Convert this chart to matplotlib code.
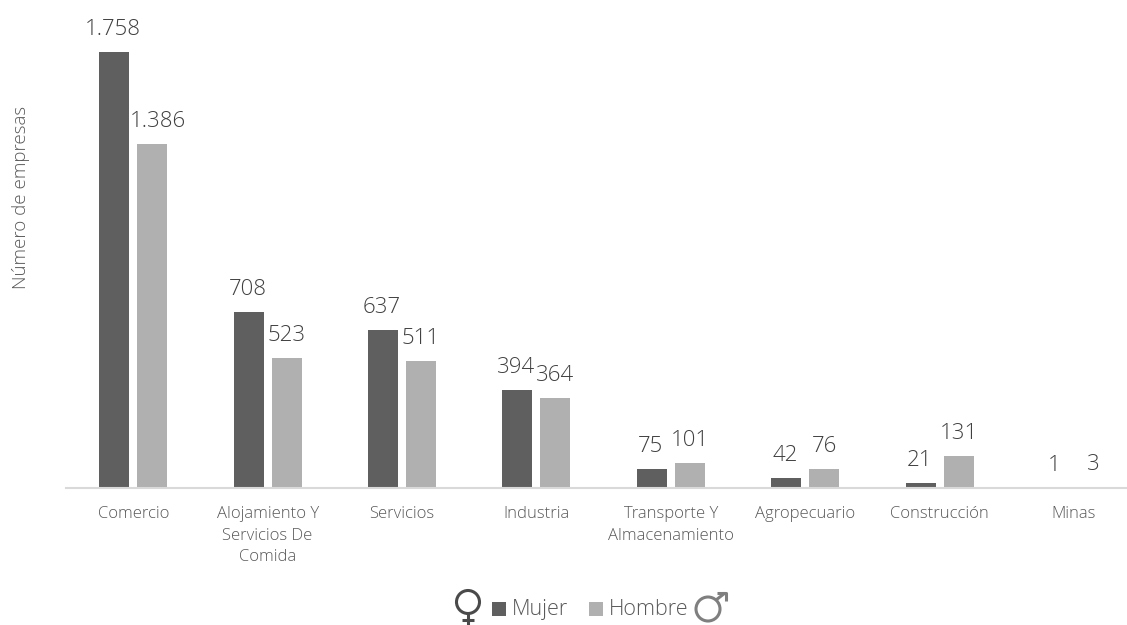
import matplotlib
matplotlib.use('Agg')
import matplotlib.pyplot as plt
from matplotlib.patches import Circle, Rectangle
from matplotlib.lines import Line2D
from matplotlib.transforms import IdentityTransform

# datos
categorias = ['Comercio', 'Alojamiento Y\nServicios De\nComida', 'Servicios', 'Industria',
              'Transporte Y\nAlmacenamiento', 'Agropecuario', 'Construcción', 'Minas']
mujer = [1758, 708, 637, 394, 75, 42, 21, 1]
hombre = [1386, 523, 511, 364, 101, 76, 131, 3]

plt.rcParams['font.family'] = ['Open Sans', 'DejaVu Sans']

W, H = 1127, 625
fig = plt.figure(figsize=(W / 100, H / 100), dpi=100)

# ejes en pixeles: izquierda 66, base 488, arriba 52
paso = 134.4
ax = fig.add_axes([66 / W, 1 - 488 / H, (W - 66) / W, (488 - 52) / H])
ax.set_xlim(-0.5, -0.5 + (W - 66) / paso)
ax.set_ylim(0, 1758)
ax.patch.set_alpha(0)

x = list(range(len(categorias)))
ancho = 30 / paso
desp = 19 / paso
ax.bar([i - desp for i in x], mujer, ancho, color='#5f5f5f', clip_on=False)
ax.bar([i + desp for i in x], hombre, ancho, color='#b0b0b0', clip_on=False)

for i, v in zip(x, mujer):
    ax.annotate(f'{v:,}'.replace(',', '.'), (i - desp, v), xytext=(-1, 12), textcoords='offset pixels',
                ha='center', va='bottom', fontsize=16, color='#404040', fontweight='light', annotation_clip=False)
for i, v in zip(x, hombre):
    # la etiqueta 1.386 va corrida a la derecha para no tocar la barra vecina
    dx = 6 if v > 1000 else 0
    ax.annotate(f'{v:,}'.replace(',', '.'), (i + desp, v), xytext=(dx, 12), textcoords='offset pixels',
                ha='center', va='bottom', fontsize=16, color='#404040', fontweight='light', annotation_clip=False)

for s in ['top', 'left', 'right']:
    ax.spines[s].set_visible(False)
ax.spines['bottom'].set_color('#d9d9d9')
ax.spines['bottom'].set_linewidth(1.5)
ax.set_yticks([])
ax.set_xticks(x)
ax.set_xticklabels(categorias, fontsize=12, color='#595959', fontweight='light', linespacing=1.46)
ax.tick_params(axis='x', length=0, pad=13)

fig.text(21 / W, 1 - 197 / H, 'Número de empresas', rotation=90, ha='center', va='center',
         fontsize=13.5, color='#595959', fontweight='light')


# leyenda con simbolos, en pixeles de la figura
def linea(xs, ys, color, lw=2.2):
    fig.add_artist(Line2D([a / W for a in xs], [1 - b / H for b in ys], color=color, lw=lw,
                          solid_capstyle='butt'))


def circulo(cx, cy, r, color, lw=2.2):
    fig.add_artist(Circle((cx, H - cy), r, fill=False, ec=color, lw=lw, transform=IdentityTransform()))


def cuadro(x0, y0, color):
    fig.add_artist(Rectangle((x0 / W, 1 - (y0 + 14) / H), 14 / W, 14 / H, color=color, lw=0,
                             transform=fig.transFigure))


# femenino
circulo(468, 602, 11.5, '#4a4a4a')
linea([468, 468], [613, 625], '#4a4a4a')
linea([462, 474], [620, 620], '#4a4a4a')
# cuadros
cuadro(492, 602, '#5f5f5f')
fig.text(512 / W, 1 - 615 / H, 'Mujer', fontsize=15.5, color='#595959', fontweight='light', ha='left', va='baseline')
cuadro(589, 602, '#b0b0b0')
fig.text(609 / W, 1 - 615 / H, 'Hombre', fontsize=15.5, color='#595959', fontweight='light', ha='left', va='baseline')
# masculino
circulo(708, 609, 12, '#7f7f7f')
linea([716, 725], [600, 593], '#7f7f7f')
linea([717, 725.5, 725.5], [593, 593, 601], '#7f7f7f')

fig.savefig('out.png', dpi=100)
